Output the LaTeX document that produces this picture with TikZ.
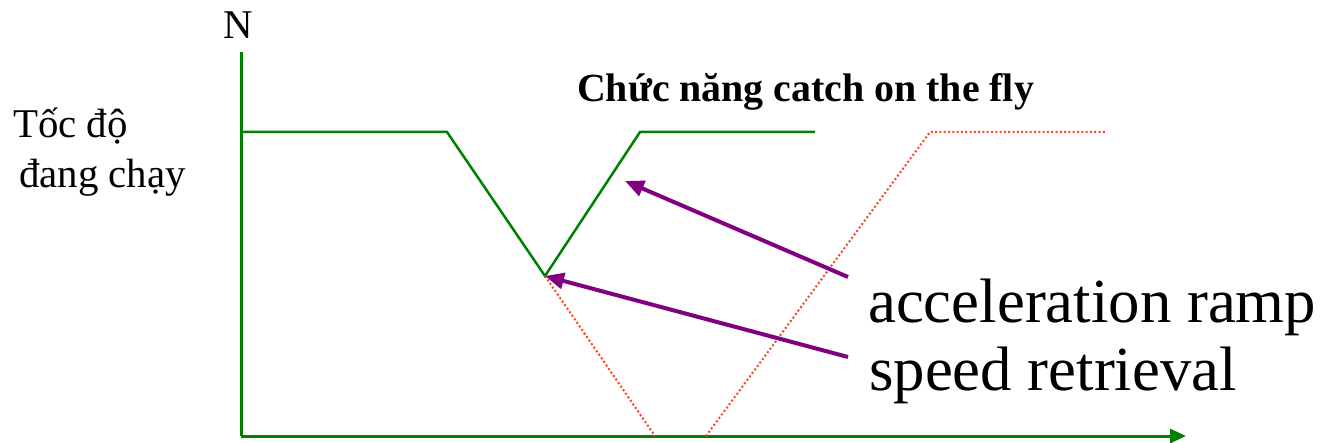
\documentclass[tikz,border=0pt]{standalone}
\usepackage{fontspec}
\setmainfont{Liberation Serif}
\usetikzlibrary{arrows.meta}
\definecolor{axisgreen}{HTML}{008000}
\definecolor{dotred}{HTML}{FF4422}
\definecolor{arrpurple}{HTML}{800080}
\tikzset{
  axisline/.style={draw=axisgreen, line width=3bp},
  curve/.style={draw=axisgreen, line width=2.5bp, line join=miter},
  dotline/.style={draw=dotred, line width=2bp, dash pattern=on 2bp off 2.3bp},
  pointer/.style={draw=arrpurple, line width=4bp, -{Triangle[length=19bp,width=16bp]}},
  lbl/.style={anchor=base west, inner sep=0pt, font=\fontsize{41}{48}\selectfont},
  bigl/.style={anchor=base west, inner sep=0pt, font=\fontsize{63}{70}\selectfont},
}
\begin{document}
\begin{tikzpicture}[x=1bp, y=-1bp]
\useasboundingbox (0,0) rectangle (1328,443);
% axes
\coordinate (ytop) at (241,52);
\coordinate (orig) at (241,436);
\coordinate (xend) at (1186,436);
\draw[axisline] (ytop) -- (orig);
\draw[axisline, -{Triangle[length=16bp,width=14bp]}] (orig) -- (xend);
% green speed curve
\coordinate (g0) at (241,132);
\coordinate (g1) at (447,132);
\coordinate (g2) at (545,276);
\coordinate (g3) at (640,132);
\coordinate (g4) at (815,132);
\draw[curve] (g0) -- (g1) -- (g2) -- (g3) -- (g4);
% red dotted curve
\coordinate (r1) at (655,436);
\coordinate (r2) at (706,436);
\coordinate (r3) at (930,132);
\coordinate (r4) at (1105,132);
\draw[dotline] (g2) -- (r1);
\draw[dotline] (r2) -- (r3) -- (r4);
% purple pointers
\coordinate (p1s) at (848,277);
\coordinate (p1e) at (625,181);
\coordinate (p2s) at (848,357);
\coordinate (p2e) at (545,276);
\draw[pointer] (p1s) -- (p1e);
\draw[pointer] (p2s) -- (p2e);
% texts
\node[lbl] (nlab) at (223,39) {N};
\node[lbl] (tocdo) at (13,138) {Tốc độ};
\node[lbl] (dangchay) at (19,188) {đang chạy};
\node[lbl, font=\fontsize{40}{48}\selectfont\bfseries] (title) at (577,102) {Chức năng catch on the fly};
\node[bigl] (accel) at (868,323) {acceleration ramp};
\node[bigl] (speed) at (869,390) {speed retrieval};
\end{tikzpicture}
\end{document}
